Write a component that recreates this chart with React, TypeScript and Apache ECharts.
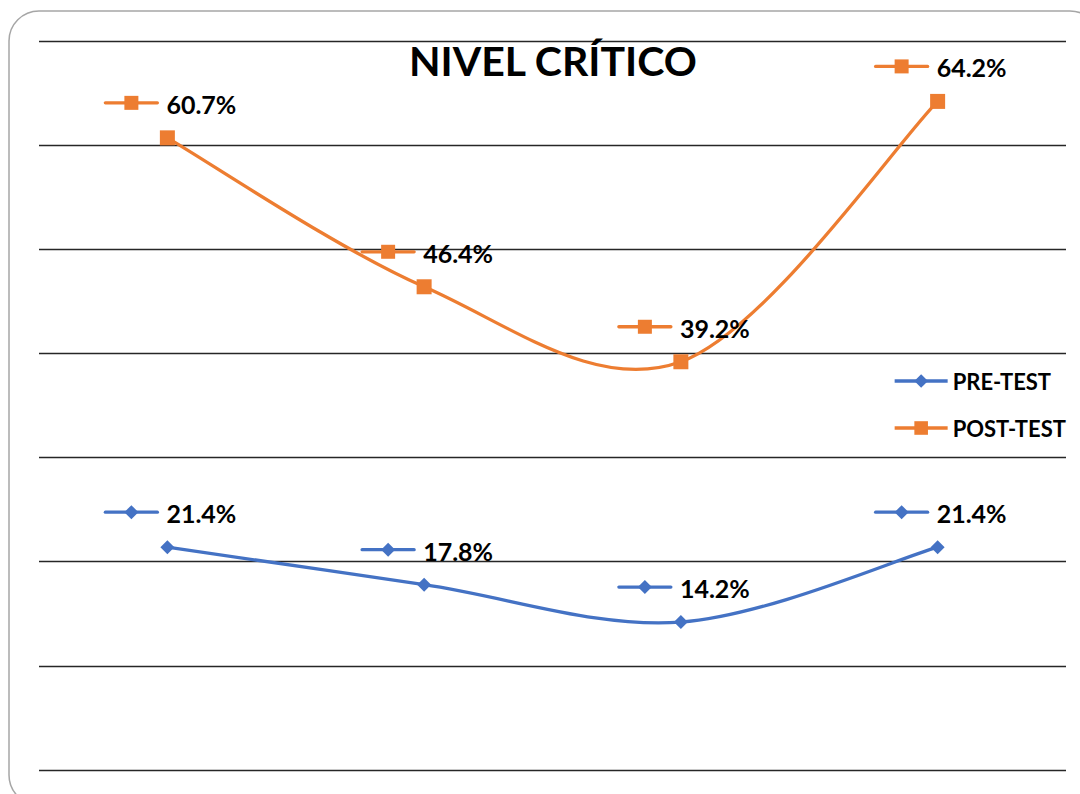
import React, { useEffect, useRef } from "react";
import * as echarts from "echarts";

const categories = ["1", "2", "3", "4"];
const preTest = [21.4, 17.8, 14.2, 21.4];
const postTest = [60.7, 46.4, 39.2, 64.2];
const yTicks = [0, 10, 20, 30, 40, 50, 60, 70];

const BLUE = "#4472C4";
const ORANGE = "#ED7D31";
const FONT = "Lato";

// Excel-like (Catmull-Rom) smoothed line drawn through the axes' own scales
function curveSeries(values: number[], color: string) {
  return {
    type: "custom",
    silent: true,
    z: 2,
    data: values.map((v, i) => [i, v]),
    renderItem: (params: any, api: any) => {
      const i = params.dataIndex;
      const n = values.length;
      if (i >= n - 1) return { type: "group", children: [] };
      const c = (j: number) => {
        const k = Math.max(0, Math.min(n - 1, j));
        return api.coord([k, values[k]]);
      };
      const p0 = c(i - 1);
      const p1 = c(i);
      const p2 = c(i + 1);
      const p3 = c(i + 2);
      return {
        type: "bezierCurve",
        shape: {
          x1: p1[0],
          y1: p1[1],
          cpx1: p1[0] + (p2[0] - p0[0]) / 6,
          cpy1: p1[1] + (p2[1] - p0[1]) / 6,
          cpx2: p2[0] - (p3[0] - p1[0]) / 6,
          cpy2: p2[1] - (p3[1] - p1[1]) / 6,
          x2: p2[0],
          y2: p2[1],
        },
        style: { stroke: color, lineWidth: 3.3, fill: "none" },
      };
    },
  };
}

function keySeries(values: number[], color: string, kind: "diamond" | "square") {
  return {
    type: "custom",
    silent: true,
    z: 5,
    data: values.map((v, i) => [i, v]),
    renderItem: (params: any, api: any) => {
      const p = api.coord([api.value(0), api.value(1)]);
      const cx = p[0] - 36;
      const cy = p[1] - 35;
      const marker =
        kind === "square"
          ? { type: "rect", shape: { x: cx - 7, y: cy - 7, width: 14, height: 14 }, style: { fill: color } }
          : {
              type: "polygon",
              shape: { points: [[cx, cy - 7], [cx + 7, cy], [cx, cy + 7], [cx - 7, cy]] },
              style: { fill: color },
            };
      return {
        type: "group",
        children: [
          {
            type: "line",
            shape: { x1: p[0] - 62, y1: cy, x2: p[0] - 10, y2: cy },
            style: { stroke: color, lineWidth: 3.3, lineCap: "round" },
          },
          marker,
        ],
      };
    },
  };
}

export default function App() {
  const ref = useRef<HTMLDivElement>(null);
  useEffect(() => {
    if (!ref.current) return;
    const chart = echarts.init(ref.current, null, { renderer: "svg" });
    const labelCfg = {
      show: true,
      position: "inside",
      align: "left",
      verticalAlign: "middle",
      offset: [-1, -34],
      fontFamily: FONT,
      fontWeight: "bold",
      fontSize: 25,
      color: "#000",
      formatter: (p: any) => p.value.toFixed(1) + "%",
    };
    chart.setOption({
      animation: false,
      backgroundColor: "#fff",
      title: {
        text: "NIVEL CRÍTICO",
        left: 409,
        top: 40,
        padding: 0,
        textStyle: { fontFamily: FONT, fontWeight: "bold", fontSize: 41, color: "#000" },
      },
      graphic: [
        {
          type: "rect",
          shape: { x: 9, y: 11, width: 1091, height: 794, r: 30 },
          style: { fill: "none", stroke: "#a6a6a6", lineWidth: 1.5 },
          z: -1,
        },
      ],
      legend: {
        data: [
          { name: "PRE-TEST", lineStyle: { color: BLUE, width: 3.3, opacity: 1 } },
          { name: "POST-TEST", lineStyle: { color: ORANGE, width: 3.3, opacity: 1 } },
        ],
        orient: "vertical",
        left: 893,
        top: 370,
        padding: 0,
        itemWidth: 53,
        itemHeight: 17,
        itemGap: 25,
        textStyle: { fontFamily: FONT, fontWeight: "bold", fontSize: 22, color: "#000" },
      },
      grid: { left: 39, right: 14, top: 41, bottom: 24, containLabel: false },
      xAxis: {
        type: "category",
        data: categories,
        boundaryGap: true,
        axisLine: { show: false },
        axisTick: { show: false },
        axisLabel: { show: false },
      },
      yAxis: {
        type: "value",
        min: yTicks[0],
        max: yTicks[yTicks.length - 1],
        interval: 10,
        axisLabel: { show: false },
        axisLine: { show: false },
        axisTick: { show: false },
        splitLine: { lineStyle: { color: "#262626", width: 1.3 } },
      },
      series: [
        {
          name: "PRE-TEST",
          type: "line",
          data: preTest,
          symbol: "diamond",
          symbolSize: 14,
          lineStyle: { color: BLUE, width: 3, opacity: 0 },
          itemStyle: { color: BLUE },
          label: labelCfg,
          z: 3,
        },
        {
          name: "POST-TEST",
          type: "line",
          data: postTest,
          symbol: "rect",
          symbolSize: 15,
          lineStyle: { color: ORANGE, width: 3, opacity: 0 },
          itemStyle: { color: ORANGE },
          label: labelCfg,
          z: 3,
        },
        curveSeries(preTest, BLUE),
        curveSeries(postTest, ORANGE),
        keySeries(preTest, BLUE, "diamond"),
        keySeries(postTest, ORANGE, "square"),
      ],
    });
    return () => chart.dispose();
  }, []);
  return (
    <div
      ref={ref}
      style={{ position: "fixed", left: 0, top: 0, width: 1080, height: 794 }}
    />
  );
}
